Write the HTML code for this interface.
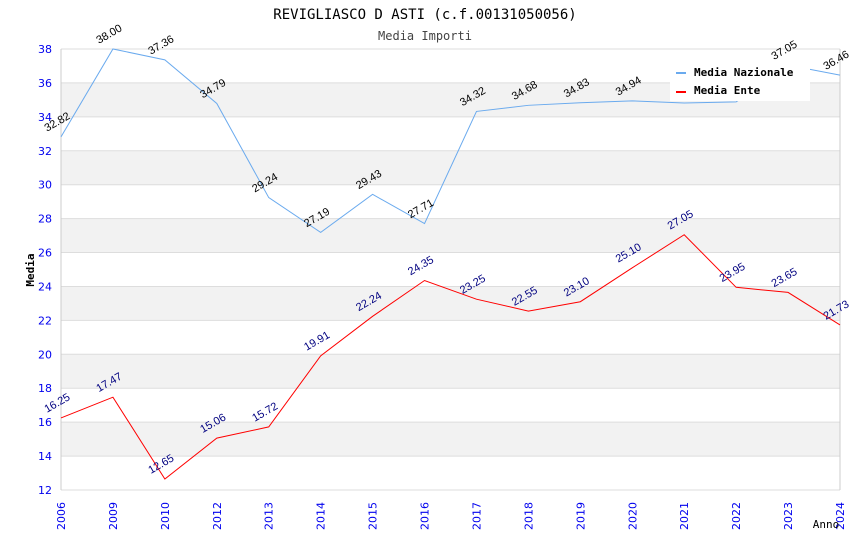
<!DOCTYPE html>
<html><head><meta charset="utf-8"><style>
body{margin:0;background:#fff;}
svg{font-family:"DejaVu Sans","Liberation Sans",sans-serif;}
.mono{font-family:"DejaVu Sans Mono","Liberation Mono",monospace;}
.lab{font-family:"Liberation Sans",sans-serif;}
</style></head><body>
<svg id="chart" width="850" height="550">
<text x="425" y="19" text-anchor="middle" class="mono" font-size="14">REVIGLIASCO D ASTI (c.f.00131050056)</text>
<text x="425" y="40" text-anchor="middle" class="mono" font-size="12" fill="#444">Media Importi</text>
<g id="grid"></g>
<g id="axes"></g>
<g id="series"></g>
<text x="34" y="270" transform="rotate(-90 34 270)" text-anchor="middle" class="mono" font-size="11" font-weight="bold">Media</text>
<text x="826" y="528" text-anchor="middle" class="mono" font-size="11">Anno</text>
<g>
<rect x="670" y="62" width="140" height="39" fill="#fff"/>
<g><rect x="676" y="72" width="10" height="2" fill="#6aaaee"/><text x="694" y="76" class="mono" font-size="11" font-weight="bold">Media Nazionale</text></g>
<g><rect x="676" y="91" width="10" height="2" fill="#ff0000"/><text x="694" y="94" class="mono" font-size="11" font-weight="bold">Media Ente</text></g>
</g>
</svg>
<script>
const categories=["2006","2009","2010","2012","2013","2014","2015","2016","2017","2018","2019","2020","2021","2022","2023","2024"];
const nazionale=[32.82,38.00,37.36,34.79,29.24,27.19,29.43,27.71,34.32,34.68,34.83,34.94,34.82,34.88,37.05,36.46];
const ente=[16.25,17.47,12.65,15.06,15.72,19.91,22.24,24.35,23.25,22.55,23.10,25.10,27.05,23.95,23.65,21.73];
const yTicks=[12,14,16,18,20,22,24,26,28,30,32,34,36,38];
const X0=61,X1=840,Y0=490,Y1=49,ymin=12,ymax=38;
const NS="http://www.w3.org/2000/svg";
const xs=i=>X0+(X1-X0)*i/(categories.length-1);
const ys=v=>Y0-(v-ymin)/(ymax-ymin)*(Y0-Y1);
function mk(t,a,p){const e=document.createElementNS(NS,t);for(const k in a)e.setAttribute(k,a[k]);p.appendChild(e);return e;}
const grid=document.getElementById('grid'),axes=document.getElementById('axes'),ser=document.getElementById('series');
for(let i=0;i<yTicks.length-1;i++){
  const a=yTicks[i],b=yTicks[i+1];
  if(a%4===2){const r=mk('rect',{x:X0,y:ys(b),width:X1-X0,height:ys(a)-ys(b),fill:'#f2f2f2'},grid);
  
  }
}
yTicks.forEach(v=>{
  const l=mk('line',{x1:X0,x2:X1,y1:ys(v),y2:ys(v),stroke:'#dddddd','stroke-width':1},grid);
  
  
  const t=mk('text',{x:X0-9,y:ys(v)+4,'text-anchor':'end','font-size':11,fill:'#0000ee'},axes);
  t.textContent=v;
  
  
});
const vb=mk('line',{x1:X0,x2:X0,y1:Y1,y2:Y0,stroke:'#ccc'},axes);


const vr=mk('line',{x1:X1,x2:X1,y1:Y1,y2:Y0,stroke:'#ccc'},axes);


categories.forEach((c,i)=>{
  const x=xs(i);
  const t=mk('text',{x:x+4,y:530,'text-anchor':'start','font-size':11,fill:'#0000ee',transform:`rotate(-90 ${x+4} 530)`},axes);
  t.textContent=c;
  
  
});
function series(vals,color,labColor,name,skip){
  const p=mk('polyline',{points:vals.map((v,i)=>xs(i)+','+ys(v)).join(' '),fill:'none',stroke:color,'stroke-width':1},ser);
  
  
  vals.forEach((v,i)=>{
    if(skip.includes(i))return;
    const x=xs(i)-14,y=ys(v)-5;
    const t=mk('text',{x:x,y:y,'font-size':11,fill:labColor,'class':'lab',transform:`rotate(-30 ${x} ${y})`},ser);
    t.textContent=v.toFixed(2);
    
    
  });
}
series(nazionale,'#6aaaee','#000','nazionale',[12,13]);
series(ente,'#ff0000','#000080','ente',[]);
</script>
</body></html>
